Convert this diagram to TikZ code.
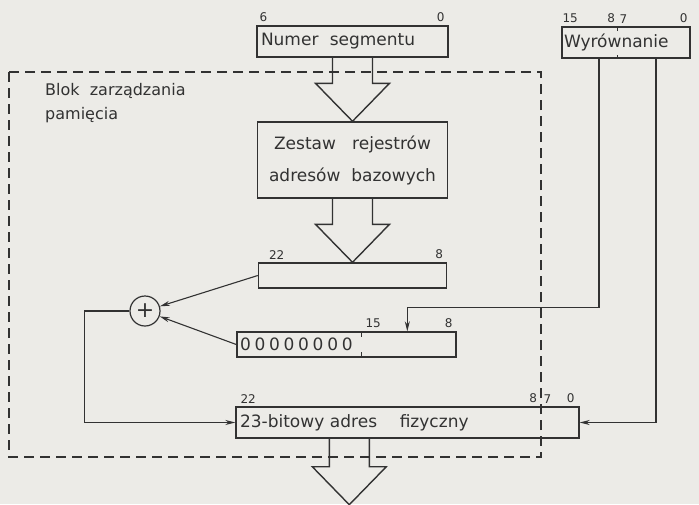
\documentclass[tikz,border=0pt]{standalone}
\usepackage{fontspec}
\setmainfont{DejaVu Sans}
\usetikzlibrary{arrows.meta,calc,positioning}

\definecolor{paper}{RGB}{236,235,231}
\definecolor{ink}{RGB}{50,50,50}

% wide hollow arrow: #1 start (stem top), #2 tip
\newcommand{\hollowarrow}[2]{%
  \draw[hollow] ($(#1)+(-20,0)$) -- ($(#2)+(-20,-38)$) -- ($(#2)+(-37,-38)$) -- (#2)
    -- ($(#2)+(37,-38)$) -- ($(#2)+(20,-38)$) -- ($(#1)+(20,0)$);}

\begin{document}
\begin{tikzpicture}[x=1pt, y=-1pt,
    reg/.style={rectangle, draw=ink, line width=1.4pt, inner sep=4pt, text=ink,
      font=\fontsize{17}{32}\selectfont},
    bit/.style={font=\fontsize{12}{13}\selectfont, text=ink, inner sep=1pt},
    arrow/.style={draw=ink, line width=1.1pt, -{Stealth[length=10pt,width=5pt]}},
    hollow/.style={draw=ink, line width=1.4pt, line join=miter},
    block/.style={draw=ink, line width=1.2pt, dash pattern=on 10pt off 6pt},
  ]
  \fill[paper] (0,0) rectangle (699,504);
  \useasboundingbox (0,0) rectangle (699,504);

  % inputs (top)
  \node [reg, minimum width=191pt, minimum height=31pt, text width=183pt, align=left] (numer) at (352.5,41.5) {Numer\ \ segmentu};
  \node [reg, minimum width=128pt, minimum height=31pt, text width=124pt, inner sep=2pt, align=left] (wyr) at (626,42.5) {Wyrównanie};
  \node [bit, anchor=south west] at ($(numer.north west)+(2,-2)$) {6};
  \node [bit, anchor=south east] at ($(numer.north east)+(-3,-2)$) {0};
  \node [bit, anchor=south west] at ($(wyr.north west)+(0,-2)$) {15};
  \node [bit, anchor=south east] at ($(wyr.north west)+(55,-2)$) {8};
  \node [bit, anchor=south west] at ($(wyr.north west)+(57,-2)$) {7};
  \node [bit, anchor=south east] at ($(wyr.north east)+(-2,-2)$) {0};
  \draw [ink, line width=1.1pt] ($(wyr.north west)+(56,0)$) -- ++(0,5);
  \draw [ink, line width=1.1pt] ($(wyr.south west)+(56,0)$) -- ++(0,-4);

  % memory management block
  \draw [block] (9,72) rectangle (541,457);
  \node [font=\fontsize{16}{24}\selectfont, text=ink, align=left, anchor=north west, inner sep=0pt] (blok) at (45,83) {Blok\ \ zarządzania\\pamięcia};
  \node [reg, minimum width=190pt, minimum height=76pt, align=center] (zest) at (352.5,160) {Zestaw\ \ \ rejestrów\\adresów\ \ bazowych};
  \node [reg, minimum width=188pt, minimum height=25pt] (b22) at (352.5,275.5) {};
  \node [bit, anchor=south west] at ($(b22.north west)+(10,-2)$) {22};
  \node [bit, anchor=south east] at ($(b22.north east)+(-3,-2)$) {8};
  \node [reg, minimum width=219pt, minimum height=25pt, text width=213pt, inner sep=1pt, align=left] (b0) at (346.5,344.5) {\addfontfeatures{LetterSpace=22}00000000};
  \node [bit, anchor=south west] at ($(b0.north west)+(128,-2)$) {15};
  \node [bit, anchor=south east] at ($(b0.north east)+(-3,-2)$) {8};
  \draw [ink, line width=1.1pt] ($(b0.north west)+(125,0)$) -- ++(0,6);
  \draw [ink, line width=1.1pt] ($(b0.south west)+(125,0)$) -- ++(0,-6);
  \node [circle, draw=ink, line width=1.2pt, minimum size=30pt, inner sep=0pt, text=ink, font=\fontsize{22}{22}\selectfont] (sum) at (145,311) {+};

  % physical address
  \node [reg, minimum width=343pt, minimum height=31pt, text width=335pt, align=left] (bot) at (407.5,422.5) {23-bitowy adres\ \ \ \ fizyczny};
  \node [bit, anchor=south west] at ($(bot.north west)+(4,-2)$) {22};
  \node [bit, anchor=south east] at ($(bot.north west)+(303,-2)$) {8};
  \node [bit, anchor=south west] at ($(bot.north west)+(307,-2)$) {7};
  \node [bit, anchor=south east] at ($(bot.north east)+(-4,-2)$) {0};
  \coordinate (out) at ($(bot.south west)+(114,66)$);

  % hollow data arrows
  \hollowarrow{numer.south}{zest.north}
  \hollowarrow{zest.south}{b22.north}
  \hollowarrow{$(bot.south west)+(114,0)$}{out}

  % connectors
  \draw [arrow] (b22.west) -- (sum);
  \draw [arrow] (b0.west) -- (sum);
  \draw [arrow] (sum.west) -- ++(-45,0) |- (bot.west);
  \draw [arrow] ($(wyr.south)+(-27,0)$) -- ++(0,249) -| ($(b0.north west)+(171,0)$);
  \draw [arrow] ($(wyr.south)+(30,0)$) |- (bot.east);
\end{tikzpicture}
\end{document}
